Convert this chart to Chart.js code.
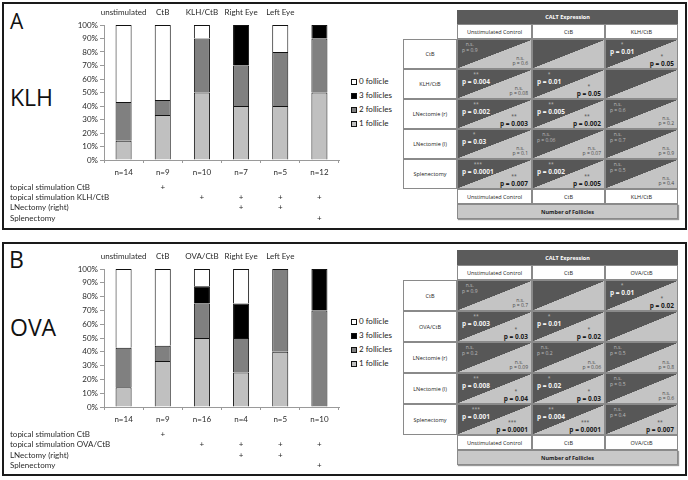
<!DOCTYPE html>
<html>
<head>
<meta charset="utf-8">
<script src="https://cdn.jsdelivr.net/npm/chart.js@4.4.0/dist/chart.umd.min.js"></script>
<style>
body { margin: 0; width: 688px; height: 480px; background: #fff; position: relative; overflow: hidden; font-family: "Open Sans", sans-serif; }
.panel { position: absolute; border: 2px solid #1a1a1a; box-sizing: border-box; }
.big { position: absolute; line-height: 1; color: #111; }
.box { position: absolute; box-sizing: border-box; border: 1px solid #8a8a8a; background: #fff; color: #222;
       font-size: 5.5px; display: flex; align-items: center; justify-content: center; text-align: center; }
.cell { position: absolute; box-sizing: border-box; border: 1px solid #8a8a8a;
        background: linear-gradient(to bottom right, #575757 50%, #c4c4c4 50.5%); }
.tl { position: absolute; left: 4px; top: 2px; text-align: center; line-height: 1.15; }
.br { position: absolute; right: 3px; bottom: 1px; text-align: center; line-height: 1.15; }
.leg { position: absolute; font-family: Lato, sans-serif; font-size: 8px; color: #222; line-height: 1; }
.leg i { display: inline-block; width: 4px; height: 4px; border: 1.5px solid #111; margin-right: 2px; vertical-align: -1px; }
canvas { position: absolute; left: 0; }
</style>
</head>
<body>

<div class="panel" style="left:2px;top:2px;width:685px;height:228px"></div>
<div class="panel" style="left:2px;top:242px;width:685px;height:234px"></div>

<div class="big" style="left:10px;top:11px;font-size:21px">A</div>
<div class="big" style="left:10px;top:86px;font-size:23px">KLH</div>
<div class="big" style="left:9px;top:248px;font-size:23px">B</div>
<div class="big" style="left:10px;top:316px;font-size:23px">OVA</div>

<canvas id="chartA" width="345" height="230" style="top:0px"></canvas>
<canvas id="chartB" width="345" height="240" style="top:240px"></canvas>

<script>
// bar series, stacked from the bottom up
const seriesNames = ['1 follicle', '2 follicles', '3 follicles', '0 follicle'];
const seriesColors = ['#c0c0c0', '#808080', '#000000', '#ffffff'];

// panel A (KLH)
const topLabelsA = ['unstimulated', 'CtB', 'KLH/CtB', 'Right Eye', 'Left Eye', ''];
const nLabelsA = ['n=14', 'n=9', 'n=10', 'n=7', 'n=5', 'n=12'];
const oneFollicleA = [14.3, 33.3, 50, 40, 40, 50];
const twoFolliclesA = [28.6, 11.1, 40, 30, 40, 40];
const threeFolliclesA = [0, 0, 0, 30, 0, 10];
const zeroFollicleA = [57.1, 55.6, 10, 0, 20, 0];
const treatLabelsA = ['topical stimulation CtB', 'topical stimulation KLH/CtB', 'LNectomy (right)', 'Splenectomy'];
const treatMarksA = [
    [0, 1, 0, 0, 0, 0],
    [0, 0, 1, 1, 1, 1],
    [0, 0, 0, 1, 1, 0],
    [0, 0, 0, 0, 0, 1]
];

// panel B (OVA)
const topLabelsB = ['unstimulated', 'CtB', 'OVA/CtB', 'Right Eye', 'Left Eye', ''];
const nLabelsB = ['n=14', 'n=9', 'n=16', 'n=4', 'n=5', 'n=10'];
const oneFollicleB = [14.3, 33.3, 50, 25, 40, 0];
const twoFolliclesB = [28.6, 11.1, 25, 25, 60, 70];
const threeFolliclesB = [0, 0, 12.5, 25, 0, 30];
const zeroFollicleB = [57.1, 55.6, 12.5, 25, 0, 0];
const treatLabelsB = ['topical stimulation CtB', 'topical stimulation OVA/CtB', 'LNectomy (right)', 'Splenectomy'];
const treatMarksB = treatMarksA;

// p-value tables
const tableColsA = ['Unstimulated Control', 'CtB', 'KLH/CtB'];
const tableRowsA = ['CtB', 'KLH/CtB', 'LNectomie (r)', 'LNectomie (l)', 'Splenectomy'];
const caltSigA = [['n.s.', '', '*'], ['**', '*', ''], ['**', '**', 'n.s.'], ['*', 'n.s.', 'n.s.'], ['***', '**', 'n.s.']];
const caltPA = [['0.9', '', '0.01'], ['0.004', '0.01', ''], ['0.002', '0.005', '0.6'], ['0.03', '0.06', '0.7'], ['0.0001', '0.002', '0.5']];
const follSigA = [['n.s.', '', '*'], ['n.s.', '*', ''], ['**', '**', 'n.s.'], ['n.s.', 'n.s.', 'n.s.'], ['**', '**', 'n.s.']];
const follPA = [['0.6', '', '0.05'], ['0.08', '0.05', ''], ['0.003', '0.002', '0.2'], ['0.1', '0.07', '0.9'], ['0.007', '0.005', '0.4']];

const tableColsB = ['Unstimulated Control', 'CtB', 'OVA/CtB'];
const tableRowsB = ['CtB', 'OVA/CtB', 'LNectomie (r)', 'LNectomie (l)', 'Splenectomy'];
const caltSigB = [['n.s.', '', '*'], ['**', '*', ''], ['n.s.', 'n.s.', 'n.s.'], ['**', '*', 'n.s.'], ['***', '**', 'n.s.']];
const caltPB = [['0.9', '', '0.01'], ['0.003', '0.01', ''], ['0.2', '0.2', '0.5'], ['0.008', '0.02', '0.5'], ['0.001', '0.004', '0.4']];
const follSigB = [['n.s.', '', '*'], ['*', '*', ''], ['n.s.', 'n.s.', 'n.s.'], ['*', '*', 'n.s.'], ['***', '***', '**']];
const follPB = [['0.7', '', '0.02'], ['0.03', '0.02', ''], ['0.09', '0.06', '0.8'], ['0.04', '0.03', '0.6'], ['0.0001', '0.0001', '0.007']];

const labelFont = { family: 'Lato', size: 8 };
const textColor = '#2a2a2a';
const axisColor = '#9a9a9a';

// draws the treatment rows and their "+" marks under the bars
const treatmentPlugin = {
    id: 'treatments',
    afterDraw(chart, args, opts) {
        const ctx = chart.ctx;
        const xScale = chart.scales.x;
        ctx.save();
        ctx.font = '8px Lato';
        ctx.fillStyle = textColor;
        ctx.textBaseline = 'middle';
        opts.labels.forEach((label, i) => {
            const y = opts.rowY[i];
            ctx.textAlign = 'left';
            ctx.fillText(label, opts.labelX, y);
            ctx.textAlign = 'center';
            opts.marks[i].forEach((m, j) => {
                if (m) ctx.fillText('+', xScale.getPixelForValue(j), y);
            });
        });
        ctx.restore();
    }
};

function makeChart(canvasId, cfg) {
    const values = [cfg.one, cfg.two, cfg.three, cfg.zero];
    new Chart(document.getElementById(canvasId), {
        type: 'bar',
        data: {
            labels: cfg.nLabels,
            datasets: seriesNames.map((name, k) => ({
                label: name,
                data: values[k],
                xAxisID: 'x',
                backgroundColor: seriesColors[k],
                borderColor: '#111',
                borderWidth: 1,
                barPercentage: 0.41,
                categoryPercentage: 1
            }))
        },
        options: {
            responsive: false,
            animation: false,
            layout: { padding: { left: 59, right: 6, top: cfg.padTop, bottom: cfg.padBottom } },
            plugins: {
                legend: { display: false },
                tooltip: { enabled: false },
                treatments: { labels: cfg.treatLabels, marks: cfg.treatMarks, rowY: cfg.rowY, labelX: 10 }
            },
            scales: {
                x: {
                    stacked: true,
                    position: 'bottom',
                    grid: { drawOnChartArea: false, tickLength: 3, color: axisColor },
                    border: { color: axisColor },
                    ticks: { font: labelFont, color: textColor, padding: 5, maxRotation: 0, autoSkip: false },
                    afterFit: s => { s.height = 20; }
                },
                top: {
                    type: 'category',
                    labels: cfg.topLabels,
                    position: 'top',
                    offset: true,
                    grid: { display: false, drawTicks: false },
                    border: { display: false },
                    ticks: { font: labelFont, color: textColor, padding: 8, maxRotation: 0, autoSkip: false },
                    afterFit: s => { s.height = 16; }
                },
                y: {
                    stacked: true,
                    min: 0,
                    max: 100,
                    grid: { drawOnChartArea: false, tickLength: 4, color: axisColor },
                    border: { color: axisColor },
                    ticks: { stepSize: 10, font: labelFont, color: textColor, padding: 2, callback: v => v + '%' },
                    afterFit: s => { s.width = 45; }
                }
            }
        },
        plugins: [treatmentPlugin]
    });
}

makeChart('chartA', {
    topLabels: topLabelsA, nLabels: nLabelsA,
    one: oneFollicleA, two: twoFolliclesA, three: threeFolliclesA, zero: zeroFollicleA,
    treatLabels: treatLabelsA, treatMarks: treatMarksA,
    padTop: 9, padBottom: 50, rowY: [187, 197, 207, 218]
});

makeChart('chartB', {
    topLabels: topLabelsB, nLabels: nLabelsB,
    one: oneFollicleB, two: twoFolliclesB, three: threeFolliclesB, zero: zeroFollicleB,
    treatLabels: treatLabelsB, treatMarks: treatMarksB,
    padTop: 13, padBottom: 53, rowY: [194, 204, 215, 225]
});

// legend, listed top-down in reverse stack order
function makeLegend(x, ys) {
    seriesNames.slice().reverse().forEach((name, i) => {
        const k = seriesNames.length - 1 - i;
        const d = document.createElement('div');
        d.className = 'leg';
        d.style.left = x + 'px';
        d.style.top = (ys[i] - 4) + 'px';
        d.innerHTML = '<i style="background:' + seriesColors[k] + '"></i>' + name;
        document.body.appendChild(d);
    });
}
makeLegend(351, [81, 95, 109, 123]);
makeLegend(351, [321, 335, 349, 363]);

function addBox(x, y, w, h, html, style) {
    const d = document.createElement('div');
    d.className = 'box';
    d.style.cssText = 'left:' + x + 'px;top:' + y + 'px;width:' + w + 'px;height:' + h + 'px;' + (style || '');
    d.innerHTML = html;
    document.body.appendChild(d);
    return d;
}

function pGroup(sig, p, dark) {
    if (!p) return '';
    const strong = sig !== 'n.s.';
    const light = dark ? '#bdbdbd' : '#4a4a4a';
    const bold = dark ? '#f2f2f2' : '#1a1a1a';
    if (strong) {
        return '<div style="font-size:5px;color:' + light + '">' + sig + '</div>' +
            '<div style="font-size:6.5px;font-weight:700;color:' + bold + '">p = ' + p + '</div>';
    }
    return '<div style="font-size:5px;color:' + light + '">' + sig + '</div>' +
        '<div style="font-size:5px;color:' + light + '">p = ' + p + '</div>';
}

function makeTable(g, cols, rows, caltSig, caltP, follSig, follP) {
    const left = g.colX[0];
    const right = g.colX[g.colX.length - 1];
    addBox(left, g.headY, right - left, g.headH, 'CALT Expression',
        'background:#5b5b5b;color:#fff;font-weight:700;border-color:#5b5b5b');
    const rowsTop = g.headY + g.headH + g.colH;
    const footY = rowsTop + rows.length * g.rowH;
    cols.forEach((c, j) => {
        const w = g.colX[j + 1] - g.colX[j];
        addBox(g.colX[j], g.headY + g.headH, w, g.colH, c);
        addBox(g.colX[j], footY, w, g.colH, c);
    });
    addBox(left, footY + g.colH, right - left, g.colH, 'Number of Follicles',
        'background:#c8c8c8;font-weight:700;box-shadow:1px 1px 1px #999');
    rows.forEach((r, i) => {
        const y = rowsTop + i * g.rowH;
        addBox(g.rowX, y, left - g.rowX, g.rowH, r);
        cols.forEach((c, j) => {
            const d = document.createElement('div');
            d.className = 'cell';
            d.style.cssText = 'left:' + g.colX[j] + 'px;top:' + y + 'px;width:' + (g.colX[j + 1] - g.colX[j]) +
                'px;height:' + g.rowH + 'px;';
            d.innerHTML = '<div class="tl">' + pGroup(caltSig[i][j], caltP[i][j], true) + '</div>' +
                '<div class="br">' + pGroup(follSig[i][j], follP[i][j], false) + '</div>';
            document.body.appendChild(d);
        });
    });
}

makeTable({ rowX: 403, colX: [457, 532, 605, 678], headY: 10, headH: 14, colH: 15, rowH: 30 },
    tableColsA, tableRowsA, caltSigA, caltPA, follSigA, follPA);
makeTable({ rowX: 403, colX: [457, 532, 605, 678], headY: 250, headH: 15, colH: 15, rowH: 31 },
    tableColsB, tableRowsB, caltSigB, caltPB, follSigB, follPB);
</script>
</body>
</html>
